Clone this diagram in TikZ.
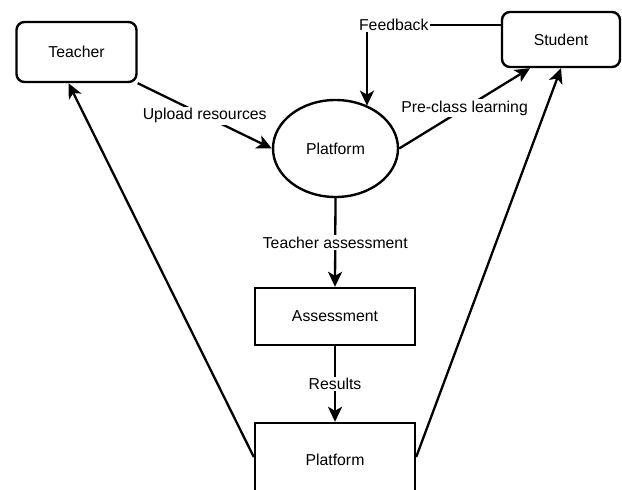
\documentclass[tikz,border=0pt]{standalone}
\usepackage{fontspec}
\setmainfont{Liberation Sans}
\usetikzlibrary{arrows.meta,shapes.geometric,calc}
\begin{document}
\begin{tikzpicture}[x=1pt,y=-1pt,
  every node/.style={font=\fontsize{15.8}{18}\selectfont, text=black},
  rbox/.style={draw, line width=2.4pt, rounded corners=8pt, inner sep=0pt},
  sbox/.style={draw, line width=2.4pt, inner sep=0pt},
  ell/.style={draw, ellipse, line width=2.4pt, inner sep=0pt},
  conn/.style={line width=2.3pt, -{Stealth[length=15pt,width=14pt,inset=4pt]}},
  lbl/.style={fill=white, inner sep=1.5pt}
]
\useasboundingbox (0,0) rectangle (622,490);
\clip (0,0) rectangle (622,490);
\fill[white] (0,0) rectangle (622,490);

\node[rbox, minimum width=120pt, minimum height=60pt] (tea) at (76.5,52) {Teacher};
\node[rbox, minimum width=118pt, minimum height=55pt] (stu) at (561,39.5) {Student};
\node[ell, minimum width=125pt, minimum height=97pt] (plat) at (335.5,148.5) {Platform};
\node[sbox, minimum width=160pt, minimum height=57pt] (ass) at (335,316.5) {Assessment};
\node[sbox, minimum width=160pt, minimum height=68pt] (plat2) at (335,457) {};
\node (plat2t) at (335,460) {Platform};

\coordinate (fbc) at (367,25);
\coordinate (stul) at ([xshift=-31pt]stu.south);
\coordinate (teab) at ([xshift=-8pt]tea.south);

\draw[conn] (tea.south east) -- node[lbl]{Upload resources} (plat.west);
\draw[conn] (plat.east) -- node[lbl]{Pre-class learning} (stul);
\draw[conn] ([yshift=14.5pt]stu.west) -- node[lbl,pos=0.8]{Feedback} (fbc) -- (fbc |- plat.53);
\draw[conn] (plat.south) -- node[lbl]{Teacher assessment} (ass.north);
\draw[conn] (ass.south) -- node[lbl]{Results} (plat2.north);
\draw[conn] (plat2.west) -- (teab);
\draw[conn] (plat2.east) -- (stu.south);
\end{tikzpicture}
\end{document}
